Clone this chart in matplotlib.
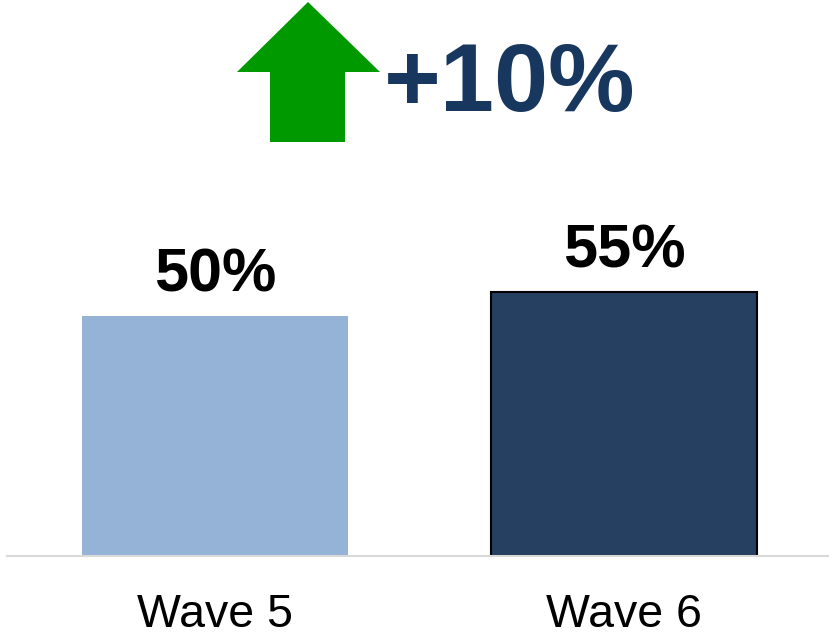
import matplotlib
matplotlib.use("Agg")
import matplotlib.pyplot as plt
from matplotlib.patches import Polygon

# ── data ──────────────────────────────────────────────────────────────
waves = ["Wave 5", "Wave 6"]
shares = [50, 55]
change_label = "+10%"

BAR_COLORS = ["#95B3D7", "#254061"]
BAR_EDGES = ["none", "#000000"]
NAVY = "#17375E"
GREEN = "#009900"
AXIS_GRAY = "#D9D9D9"

plt.rcParams["font.family"] = ["Liberation Sans", "DejaVu Sans"]

W, H, DPI = 834, 637, 100
fig = plt.figure(figsize=(W / DPI, H / DPI), dpi=DPI)

# axes spans the baseline rule; 4.8 px per percentage point
left_px, right_px, base_px = 7, 828, 556
px_per_unit = 4.8
ax = fig.add_axes([left_px / W, (H - base_px) / H,
                   (right_px - left_px) / W, base_px / H])
ax.set_ylim(0, base_px / px_per_unit)
spacing = 409.0
ax.set_xlim((left_px - 215) / spacing, (right_px - 215) / spacing)

x = list(range(len(waves)))
bars = ax.bar(x, shares, width=0.65, color=BAR_COLORS,
              edgecolor=BAR_EDGES, linewidth=1.5, zorder=2)

for xi, v in zip(x, shares):
    ax.text(xi, v + 25 / px_per_unit, f"{v}%", ha="center", va="baseline",
            fontsize=44, fontweight="bold", color="black")

for xi, name in zip(x, waves):
    ax.text(xi, -71 / px_per_unit, name, ha="center", va="baseline",
            fontsize=33.5, color="black", clip_on=False)

for s in ["top", "right", "left"]:
    ax.spines[s].set_visible(False)
ax.spines["bottom"].set_color(AXIS_GRAY)
ax.spines["bottom"].set_linewidth(1.5)
ax.set_xticks([])
ax.set_yticks([])


def px(xp, yp):
    """Pixel position (from top-left) to data coords."""
    return ((xp - 215) / spacing, (base_px - yp) / px_per_unit)


# up arrow marking the change between waves
arrow_pts = [px(270, 142), px(345, 142), px(345, 72), px(380, 72),
             px(308, 2), px(237, 72), px(270, 72)]
ax.add_patch(Polygon(arrow_pts, closed=True, facecolor=GREEN,
                     edgecolor="none", clip_on=False, zorder=3))

tx, ty = px(384, 111)
ax.text(tx, ty, change_label, ha="left", va="baseline", fontsize=70,
        fontweight="bold", color=NAVY, clip_on=False)

fig.savefig("out.png", dpi=DPI, facecolor="white")
